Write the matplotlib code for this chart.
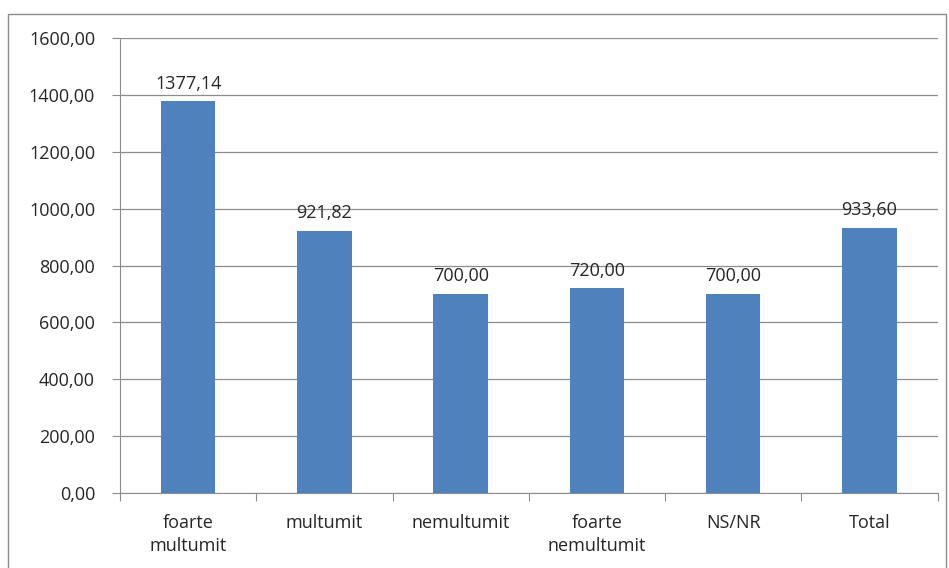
import matplotlib
matplotlib.use("Agg")
import matplotlib.pyplot as plt
from matplotlib.patches import Rectangle
from matplotlib.ticker import FuncFormatter, MultipleLocator

# Chart data
categories = ["foarte\nmultumit", "multumit", "nemultumit", "foarte\nnemultumit", "NS/NR", "Total"]
values = [1377.14, 921.82, 700.00, 720.00, 700.00, 933.60]

plt.rcParams['font.family'] = ['Open Sans', 'DejaVu Sans']
txt_color = '#262626'
fs = 13

fig = plt.figure(figsize=(9.49, 5.68), dpi=100)
ax = fig.add_axes([0.1265, 0.132, 0.8615, 0.801])

# Outer chart border (Excel chart area)
fig.patches.append(Rectangle((8 / 949, -0.01), 946 / 949 - 8 / 949, (568 - 14) / 568 + 0.01,
                             transform=fig.transFigure, fill=False, edgecolor='#8c8c8c', lw=1.0))

x = list(range(len(categories)))
bars = ax.bar(x, values, width=0.4, color='#4f81bd', zorder=3)

def comma_fmt(v, pos=None):
    return f"{v:.2f}".replace('.', ',')

for b, v in zip(bars, values):
    ax.text(b.get_x() + b.get_width() / 2, v + 30, comma_fmt(v),
            ha='center', va='bottom', fontsize=fs, color=txt_color)

ax.set_ylim(0, 1600)
ax.set_xlim(-0.5, len(categories) - 0.5)
ax.yaxis.set_major_locator(MultipleLocator(200))
ax.yaxis.set_major_formatter(FuncFormatter(comma_fmt))
ax.yaxis.grid(True, color='#8c8c8c', lw=0.9, zorder=0)

ax.set_xticks([i + 0.5 for i in range(-1, len(categories))], minor=False)
ax.set_xticklabels([])
ax.set_xticks(x, minor=True)
ax.set_xticklabels(categories, minor=True, fontsize=fs, color=txt_color, linespacing=1.4)
ax.tick_params(axis='x', which='minor', length=0, pad=15)
ax.tick_params(axis='x', which='major', length=6, color='#8c8c8c')
ax.tick_params(axis='y', length=6, color='#8c8c8c', labelsize=fs, labelcolor=txt_color, pad=12)

for side in ['top', 'right']:
    ax.spines[side].set_visible(False)
for side in ['left', 'bottom']:
    ax.spines[side].set_color('#8c8c8c')

fig.savefig("out.png", dpi=100)
